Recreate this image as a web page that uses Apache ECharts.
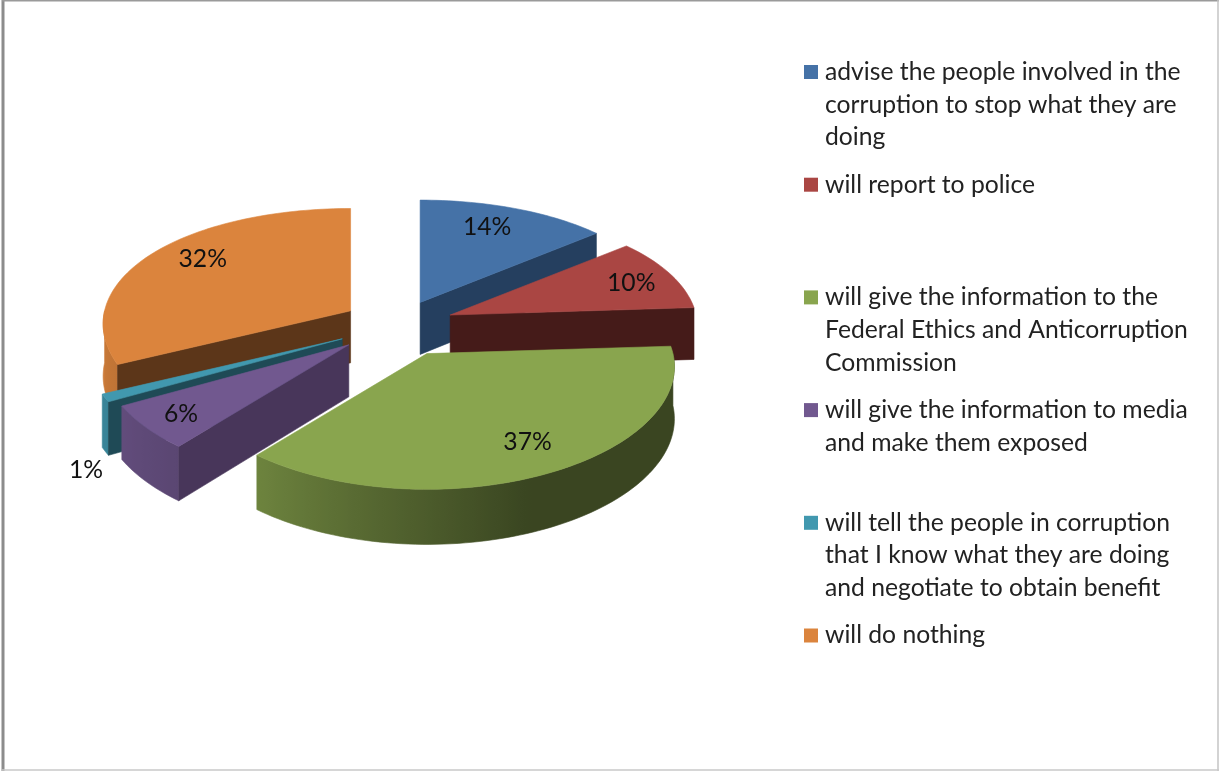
<!DOCTYPE html>
<html>
<head>
<meta charset="utf-8">
<style>html,body{margin:0;padding:0;background:#fff}#chart{width:1219px;height:771px}</style>
<script src="https://cdn.jsdelivr.net/npm/echarts@6/dist/echarts.min.js"></script>
</head>
<body>
<div id="chart"></div>
<script>
// Survey answers, in slice order clockwise from twelve o'clock.
const categories = [
  'advise the people involved in the\ncorruption to stop what they are\ndoing',
  'will report to police',
  'will give the information to the\nFederal Ethics and Anticorruption\nCommission',
  'will give the information to media\nand make them exposed',
  'will tell the people in corruption\nthat I know what they are doing\nand negotiate to obtain benefit',
  'will do nothing'
];
const shares = [14, 10, 37, 6, 1, 32];
const topColors = ['#4572A7', '#AA4643', '#89A54E', '#71588F', '#4198AF', '#DB843D'];
const cutColors = ['#253F5F', '#451B19', '#37421E', '#48365A', '#1F4A56', '#5C3619'];

// Percentage placement: distance along the slice's middle, then a small pixel nudge.
const labelReach = [0.8, 0.8, 0.8, 0.8, 1.12, 0.8];
const labelNudgeX = [-8.5, 5.5, 2.5, -5.5, 1.5, 8.5];
const labelNudgeY = [0, 1, -7, 3, 67, -5];

// The thin slice pokes slightly past the others at its rim.
const rimReach = [1, 1, 1, 1, 1.03, 1];

// Back-to-front painting order for the exploded slices.
const paintOrder = [0, 5, 4, 3, 1, 2];

// Tilted-pie projection.
const view = { cx: 397.5, cy: 325, rx: 246, ry: 119, taperX: 0.11, taperY: 0.14, depth: 52, taperD: 0.06, explode: 0.24 };
const FONT = 'Lato, "Open Sans", sans-serif';
const FONT_SIZE = 24.7;

const total = shares.reduce((a, b) => a + b, 0);
const rad = d => d * Math.PI / 180;

function radial(deg, r) {
  const s = Math.sin(rad(deg)), c = Math.cos(rad(deg));
  return [r * view.rx * (1 - view.taperX * c) * s, -r * view.ry * (1 - view.taperY * c) * c];
}
function depthAt(deg) {
  return view.depth * (1 - view.taperD * Math.cos(rad(deg)));
}
function sliceAngles(index) {
  let acc = 0;
  for (let i = 0; i < index; i++) acc += shares[i];
  return [acc / total * 360, (acc + shares[index]) / total * 360];
}
function wallShade(deg) {
  if (deg <= 158) return 0.42;
  if (deg <= 220) return 0.42 + (deg - 158) / 62 * 0.38;
  return 0.8 + Math.min(deg - 220, 50) / 50 * 0.15;
}
function shadeColor(hex, f) {
  const n = parseInt(hex.slice(1), 16);
  const ch = [(n >> 16) & 255, (n >> 8) & 255, n & 255].map(v => Math.round(v * f));
  return 'rgb(' + ch.join(',') + ')';
}
function arcAngles(a, b) {
  const steps = Math.max(2, Math.ceil((b - a) / 1.5));
  const out = [];
  for (let i = 0; i <= steps; i++) out.push(a + (b - a) * i / steps);
  return out;
}
function poly(points, fill) {
  return { type: 'polygon', shape: { points }, style: { fill, stroke: fill, lineWidth: 0.6 } };
}

function renderSlice(index) {
  const [a, b] = sliceAngles(index);
  const mid = (a + b) / 2;
  const off = radial(mid, view.explode);
  const ax = view.cx + off[0], ay = view.cy + off[1];
  const rim = deg => { const p = radial(deg, rimReach[index]); return [ax + p[0], ay + p[1]]; };
  const drop = (p, deg) => [p[0], p[1] + depthAt(deg)];
  const children = [];

  // Outer wall: only the part of the rim facing the viewer.
  const w0 = Math.max(a, 90), w1 = Math.min(b, 270);
  if (w1 > w0) {
    const angles = arcAngles(w0, w1);
    const upper = angles.map(rim);
    const lower = angles.map(d => drop(rim(d), d)).reverse();
    const xs = upper.map(p => p[0]);
    const x0 = Math.min(...xs), x1 = Math.max(...xs);
    const stops = angles.map((d, i) => ({
      offset: (xs[i] - x0) / Math.max(1, x1 - x0),
      color: shadeColor(topColors[index], wallShade(d))
    })).sort((p, q) => p.offset - q.offset);
    const wall = poly(upper.concat(lower), '#000');
    const grad = new echarts.graphic.LinearGradient(x0, 0, x1, 0, stops, true);
    wall.style.fill = grad;
    wall.style.stroke = grad;
    children.push(wall);
  }
  // Cut faces that turn towards the viewer.
  const cutAngle = Math.sin(rad(a)) < 0 ? a : (Math.sin(rad(b)) > 0 ? b : null);
  if (cutAngle !== null) {
    const e = rim(cutAngle);
    children.push(poly([[ax, ay], e, drop(e, cutAngle), [ax, ay + view.depth]], cutColors[index]));
  }
  // Top surface.
  children.push(poly([[ax, ay]].concat(arcAngles(a, b).map(rim)), topColors[index]));

  // Percentage label.
  const lab = radial(mid, labelReach[index]);
  children.push({
    type: 'text',
    style: {
      x: ax + lab[0] + labelNudgeX[index], y: ay + lab[1] + labelNudgeY[index],
      text: shares[index] + '%', align: 'center', verticalAlign: 'middle',
      font: FONT_SIZE + 'px ' + FONT, fill: '#111'
    }
  });
  return { type: 'group', children };
}

const lineHeight = 32.6;
const legendStep = 112.7;
const legendFirstY = 72;

const option = {
  backgroundColor: '#fff',
  animation: false,
  // One legend block per answer so each first line sits on an even step;
  // blank lines above the text keep the swatch beside that first line.
  legend: categories.map((name, i) => {
    const n = name.split('\n').length;
    const rows = 2 * n - 1;
    return {
      data: [name],
      orient: 'vertical',
      left: 804,
      top: legendFirstY + legendStep * i - rows * lineHeight / 2,
      padding: 0,
      icon: 'rect',
      itemWidth: 14,
      itemHeight: 14,
      selectedMode: false,
      formatter: t => ' \n'.repeat(n - 1) + t,
      textStyle: { fontFamily: FONT, fontSize: FONT_SIZE, color: '#222', lineHeight: lineHeight, padding: [0, 0, 0, 2] }
    };
  }),
  graphic: [
    { type: 'line', shape: { x1: 3, y1: 0, x2: 3, y2: 771 }, style: { stroke: '#8c8c8c', lineWidth: 3 } },
    { type: 'line', shape: { x1: 2, y1: 0.5, x2: 1219, y2: 0.5 }, style: { stroke: '#9a9a9a', lineWidth: 2 } },
    { type: 'line', shape: { x1: 1218, y1: 0, x2: 1218, y2: 771 }, style: { stroke: '#c4c4c4', lineWidth: 1.5 } },
    { type: 'line', shape: { x1: 2, y1: 770, x2: 1219, y2: 770 }, style: { stroke: '#c8c8c8', lineWidth: 1.5 } }
  ],
  series: paintOrder.map(index => ({
    type: 'custom',
    name: categories[index],
    coordinateSystem: 'none',
    itemStyle: { color: topColors[index] },
    data: [[shares[index]]],
    silent: true,
    renderItem: () => renderSlice(index)
  }))
};

echarts.init(document.getElementById('chart'), null, { renderer: 'canvas' }).setOption(option);
</script>
</body>
</html>
